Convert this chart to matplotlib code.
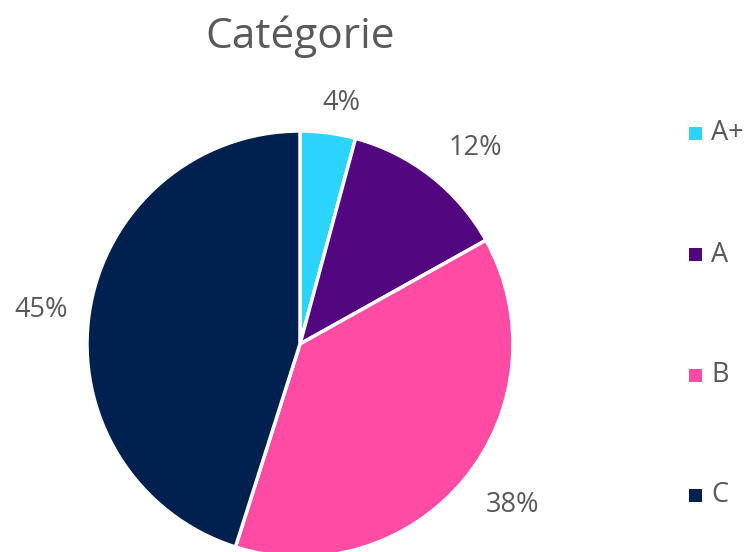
import matplotlib
matplotlib.use("Agg")
import matplotlib.pyplot as plt
from matplotlib.patches import Rectangle

title = "Catégorie"
categories = ["A+", "A", "B", "C"]
values = [4.2, 12.7, 38.0, 45.1]
labels = ["4%", "12%", "38%", "45%"]
colors = ["#2BD4FC", "#520680", "#FF4BA3", "#00214F"]

plt.rcParams['font.family'] = ['Open Sans', 'DejaVu Sans']
TXT = "#595959"

W, H = 751, 552
fig = plt.figure(figsize=(W / 100, H / 100), dpi=100)

cx, cy, r = 300, 344, 213
ax = fig.add_axes([(cx - r) / W, (H - cy - r) / H, 2 * r / W, 2 * r / H])
wedges, _ = ax.pie(values, colors=colors, startangle=90, counterclock=False,
                   radius=1.0, wedgeprops=dict(edgecolor="white", linewidth=2.5))
ax.set_xlim(-1, 1)
ax.set_ylim(-1, 1)
ax.set_aspect("equal")
ax.axis("off")

# label positions (pixel coordinates of label centers)
label_px = [(341, 103), (475, 148), (513, 505), (41, 310)]
for lab, (px, py) in zip(labels, label_px):
    fig.text(px / W, 1 - py / H, lab, ha="center", va="center",
             fontsize=19.5, color=TXT)

fig.text(300 / W, 1 - 37 / H, title, ha="center", va="center",
         fontsize=30.5, color=TXT)

# legend
leg_y = [133, 255, 375, 495]
for cat, col, y in zip(categories, colors, leg_y):
    fig.patches.append(Rectangle(((689) / W, 1 - (y + 6.5) / H), 13 / W, 13 / H,
                                 transform=fig.transFigure, facecolor=col,
                                 edgecolor="none"))
    fig.text(711 / W, 1 - y / H, cat, ha="left", va="center",
             fontsize=19.5, color=TXT)

fig.savefig("out.png", dpi=100)
